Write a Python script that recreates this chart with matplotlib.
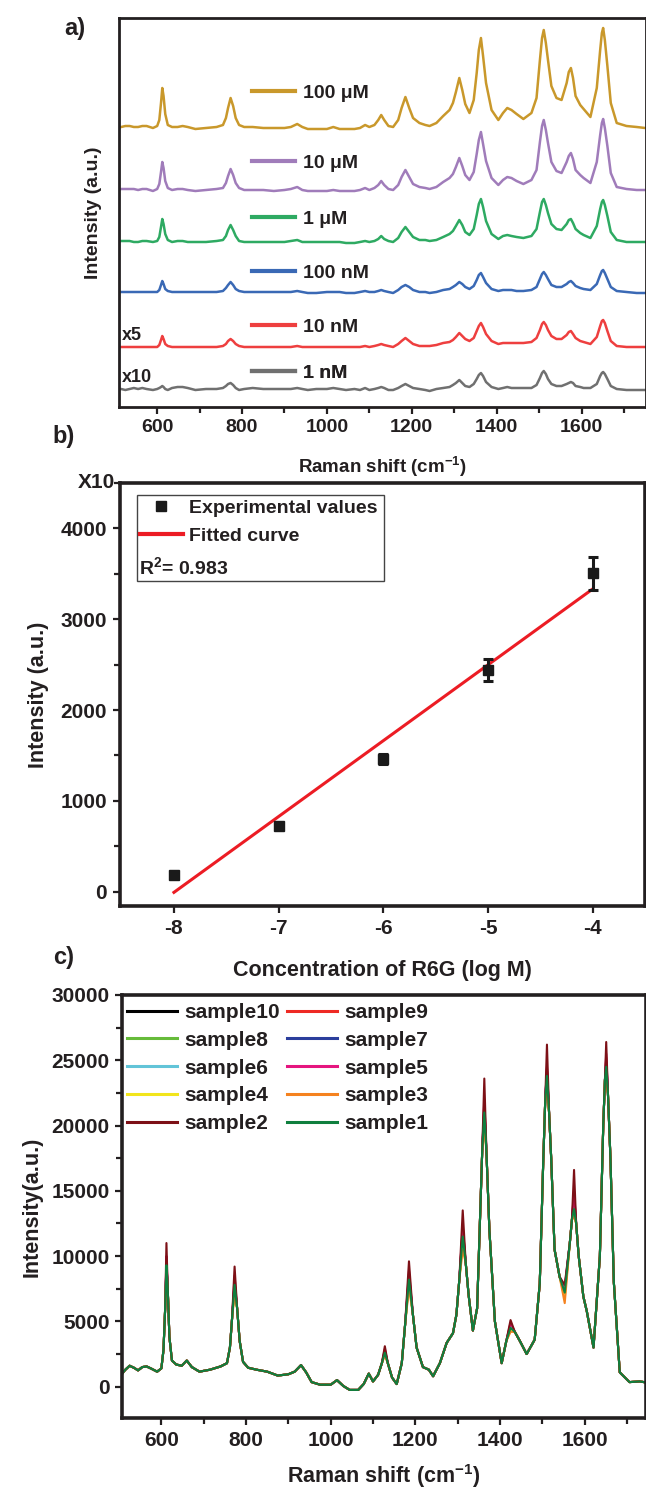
import numpy as np
import matplotlib
matplotlib.use('Agg')
import matplotlib.pyplot as plt
from matplotlib.lines import Line2D
from matplotlib.patches import Rectangle
from matplotlib.ticker import MultipleLocator

plt.rcParams['font.family'] = ['Liberation Sans', 'DejaVu Sans']
plt.rcParams['font.weight'] = 'bold'
plt.rcParams['axes.labelweight'] = 'bold'
plt.rcParams['axes.unicode_minus'] = False
plt.rcParams['mathtext.fontset'] = 'custom'
plt.rcParams['mathtext.rm'] = 'Liberation Sans:bold'
plt.rcParams['mathtext.bf'] = 'Liberation Sans:bold'
plt.rcParams['mathtext.it'] = 'Liberation Sans:bold'
plt.rcParams['mathtext.default'] = 'bf'

TXT = '#231f20'

# ---------------- data ----------------
# Raman-shift grid (cm-1) shared by all spectra
shift = [505, 515, 525, 535, 545, 555, 565, 575, 590, 600,
         605, 609, 612, 615, 619, 625, 635, 648, 660, 672,
         690, 715, 740, 755, 762, 767, 773, 779, 785, 793,
         805, 825, 850, 875, 900, 915, 930, 942, 955, 975,
         1000, 1015, 1030, 1045, 1065, 1078, 1090, 1100, 1112, 1121,
         1128, 1135, 1145, 1156, 1168, 1176, 1185, 1194, 1203, 1218,
         1232, 1242, 1258, 1274, 1289, 1297, 1304, 1312, 1319, 1326,
         1336, 1346, 1353, 1358, 1363, 1368, 1375, 1388, 1404, 1415,
         1425, 1435, 1447, 1463, 1482, 1494, 1502, 1507, 1511, 1516,
         1521, 1529, 1541, 1553, 1565, 1570, 1575, 1580, 1586, 1597,
         1605, 1621, 1636, 1644, 1648, 1651, 1655, 1661, 1669, 1683,
         1706, 1730, 1750]

# panel a: stacked spectra (a.u., height above each trace's own baseline)
a_labels = ['100 \u03bcM', '10 \u03bcM', '1 \u03bcM', '100 nM', '10 nM', '1 nM']
a_100uM = [0, 1, 2, 2, 1, 1, 2, 2, 0, 2,
           8, 25, 40, 32, 14, 3, 1, 1, 2, 1,
           -1, 0, 1, 3, 10, 20, 30, 22, 10, 3,
           1, 1, 0, 0, 0, 1, 4, 1, -1, -1,
           -1, 1, -1, -1, -1, 0, 3, 1, 3, 8,
           13, 8, 2, 1, 8, 20, 31, 20, 10, 5,
           3, 2, 5, 12, 18, 25, 36, 50, 38, 24,
           15, 28, 55, 78, 90, 72, 45, 18, 8, 15,
           20, 18, 14, 9, 15, 30, 68, 90, 98, 85,
           68, 42, 30, 28, 45, 56, 60, 50, 32, 23,
           19, 11, 40, 78, 95, 100, 88, 62, 25, 5,
           2, 1, 0]
a_10uM = [0, 1, 1, 1, 1, 0, 1, 1, -1, 1,
          6, 18, 28, 22, 9, 2, 0, 1, 1, 0,
          -1, 0, 1, 2, 7, 14, 21, 15, 7, 2,
          0, 0, 0, -1, 0, 1, 3, 0, -1, -1,
          -1, 0, -1, -1, -1, 0, 2, 0, 2, 5,
          9, 5, 1, 0, 5, 13, 20, 13, 6, 3,
          2, 1, 3, 8, 12, 16, 23, 32, 24, 15,
          10, 18, 36, 50, 58, 46, 29, 12, 5, 10,
          13, 12, 9, 6, 10, 20, 48, 64, 70, 60,
          47, 28, 19, 17, 28, 34, 37, 31, 20, 15,
          12, 7, 28, 55, 67, 71, 62, 44, 17, 3,
          1, 0, 0]
a_1uM = [0, 1, 1, 1, 0, 0, 1, 1, 0, 1,
         5, 15, 23, 18, 8, 2, 0, 1, 1, 0,
         0, 0, 1, 2, 6, 12, 17, 12, 6, 1,
         0, 0, 0, 0, 0, 1, 2, 0, 0, 0,
         0, 0, 0, -1, -1, 0, 1, 0, 1, 3,
         6, 3, 1, 0, 4, 10, 15, 10, 5, 2,
         2, 1, 2, 5, 8, 11, 16, 22, 17, 10,
         7, 13, 27, 38, 43, 35, 21, 8, 3, 6,
         7, 6, 5, 4, 6, 13, 30, 40, 43, 37,
         29, 18, 13, 12, 18, 22, 23, 19, 13, 9,
         7, 4, 16, 33, 40, 42, 37, 26, 10, 2,
         0, 0, 0]
a_100nM = [0, 0, 0, 0, 0, 0, 0, 0, 0, 0,
           2, 7, 11, 8, 3, 1, 0, 0, 0, 0,
           0, 0, 0, 1, 4, 7, 10, 7, 3, 1,
           0, 0, 0, 0, 0, 0, 1, 0, -1, -1,
           0, 0, 0, -1, -1, 0, 1, 0, 0, 1,
           2, 1, 0, -1, 2, 5, 7, 5, 2, 0,
           0, -1, 0, 2, 3, 5, 7, 10, 8, 5,
           3, 6, 12, 17, 19, 15, 9, 3, 1, 2,
           2, 2, 1, 1, 2, 5, 13, 18, 20, 17,
           13, 7, 5, 5, 8, 10, 11, 9, 6, 4,
           3, 2, 8, 17, 21, 22, 19, 13, 5, 1,
           0, -1, -1]
a_10nM = [0, 0, 0, 0, 0, 0, 0, 0, 0, 0,
          2, 7, 11, 8, 3, 1, 0, 0, 0, 0,
          0, 0, 0, 1, 3, 6, 8, 6, 3, 1,
          0, 0, 0, 0, 0, 0, 1, 0, 0, 0,
          0, 0, 0, 0, 0, 0, 1, 0, 1, 2,
          3, 2, 1, 0, 3, 6, 9, 6, 3, 1,
          1, 1, 2, 4, 5, 7, 10, 14, 11, 8,
          6, 9, 16, 21, 24, 20, 13, 6, 3, 4,
          4, 4, 4, 4, 5, 9, 17, 23, 25, 22,
          17, 11, 8, 8, 12, 15, 16, 13, 9, 6,
          5, 3, 10, 21, 26, 27, 24, 16, 6, 1,
          0, 0, 0]
a_1nM = [0, 1, 0, 1, 2, 1, 2, 1, 0, 1,
         2, 3, 4, 3, 1, 0, 2, 3, 3, 2,
         0, 1, 1, 2, 4, 6, 7, 5, 2, 0,
         1, 2, 1, 1, 1, 1, 2, 1, 0, 1,
         1, 2, 1, 0, 1, 0, 2, 0, 1, 2,
         3, 2, 0, 0, 2, 4, 6, 4, 2, 1,
         0, -1, 1, 2, 3, 5, 7, 10, 7, 4,
         3, 6, 11, 15, 17, 14, 8, 3, 1, 2,
         3, 2, 2, 2, 2, 5, 12, 17, 19, 16,
         11, 6, 4, 4, 6, 7, 8, 7, 4, 3,
         2, 2, 6, 14, 17, 18, 16, 11, 4, 1,
         0, 0, 0]
a_series = [a_100uM, a_10uM, a_1uM, a_100nM, a_10nM, a_1nM]
a_colors = ['#c9982b', '#a07cba', '#2eaa62', '#3a69b5', '#ee3f3f', '#707070']
a_offsets = [279, 217, 165, 115, 60, 17]

# panel b: calibration
log_conc = [-8, -7, -6, -5, -4]
intensity_b = [184, 727, 1461, 2441, 3506]
intensity_err = [20, 30, 60, 125, 180]
fit_x = [-8, -4]
fit_y = [-7, 3333]

# panel c: profile of sample1 + peak maxima read for every sample
c_profile = [900, 1300, 1600, 1450, 1250, 1500, 1550, 1400, 1150, 1400,
             2800, 6000, 9200, 7500, 3800, 2000, 1700, 1600, 2000, 1500,
             1150, 1300, 1550, 1800, 3000, 5200, 7800, 6000, 3500, 1900,
             1450, 1300, 1150, 850, 950, 1150, 1650, 1100, 350, 150,
             150, 500, 50, -250, -250, 200, 1000, 400, 900, 1800,
             2600, 1800, 700, 200, 1800, 4800, 8200, 5600, 3000, 1500,
             1300, 800, 1800, 3350, 4100, 5500, 8200, 11500, 9500, 7000,
             4300, 6000, 13000, 18000, 21000, 18000, 12000, 5000, 1800, 3500,
             4600, 4200, 3500, 2500, 3600, 7900, 17000, 22000, 23800, 21000,
             17500, 10500, 8400, 7200, 11000, 12800, 13700, 12500, 10000, 6900,
             5800, 3000, 10000, 20000, 23500, 24600, 22500, 17500, 8000, 1100,
             350, 400, 300]
c_peak_shift = [612, 773, 1128, 1185, 1312, 1363, 1425, 1511, 1553, 1575, 1651]
c_labels = ['sample10', 'sample9', 'sample8', 'sample7', 'sample6',
            'sample5', 'sample4', 'sample3', 'sample2', 'sample1']
c_peaks = [
    [9400, 7900, 2700, 8400, 11800, 21300, 4600, 24100, 7300, 14300, 24700],
    [9600, 8100, 2800, 8600, 12200, 21800, 4800, 24400, 7400, 14800, 25200],
    [9100, 7600, 2600, 8000, 11300, 20800, 4500, 23500, 7100, 13800, 24200],
    [9500, 8000, 2700, 8500, 12000, 21500, 4700, 24300, 7500, 14500, 25000],
    [9200, 7800, 2600, 8300, 11800, 21200, 4600, 24000, 7000, 14200, 24800],
    [10000, 8500, 2900, 8900, 12300, 22000, 4900, 24500, 7600, 15000, 25500],
    [8900, 7400, 2500, 7900, 11000, 20500, 4300, 23000, 6800, 13200, 23500],
    [8700, 7200, 2400, 7600, 10500, 20000, 4200, 22500, 6400, 13000, 23000],
    [11000, 9200, 3100, 9600, 13500, 23600, 5100, 26200, 7800, 16600, 26400],
    [9300, 7800, 2600, 8200, 11500, 21000, 4500, 23800, 7200, 13600, 24500],
]
c_colors = ['#000000', '#ee2a24', '#66bb3a', '#2b3e9c', '#62c4d8',
            '#e5157f', '#f2e51c', '#f5821f', '#7d1016', '#0f7f3e']

# ---------------- figure ----------------
W, H = 646, 1487
fig = plt.figure(figsize=(W / 100, H / 100), dpi=100)


def px_axes(left, top, right, bottom):
    return fig.add_axes([left / W, 1 - bottom / H, (right - left) / W, (bottom - top) / H])


def style_axes(ax, lw):
    for s in ax.spines.values():
        s.set_linewidth(lw)
        s.set_color(TXT)
    ax.tick_params(which='both', direction='out', color=TXT, width=1.6,
                   labelsize=14, labelcolor=TXT, top=False, right=False)
    ax.tick_params(which='major', length=5, pad=4)
    ax.tick_params(which='minor', length=4)


xs = np.array(shift)

# ---- panel a ----
ax_a = px_axes(119, 18, 646, 407)
for vals, col, off in zip(a_series, a_colors, a_offsets):
    ax_a.plot(xs, np.array(vals) + off, color=col, lw=1.8, solid_joinstyle='round')
ax_a.set_xlim(510, 1752)
ax_a.set_ylim(0, 389)
ax_a.set_yticks([])
ax_a.xaxis.set_major_locator(MultipleLocator(200))
ax_a.xaxis.set_minor_locator(MultipleLocator(100))
style_axes(ax_a, 2.0)
ax_a.set_xlabel('Raman shift (cm$^{-1}$)', fontsize=13.5, labelpad=13, color=TXT)
ax_a.set_ylabel('Intensity (a.u.)', fontsize=14, labelpad=12, color=TXT)

leg_y = [93, 163, 219, 273, 327, 373]
for lab, col, yy in zip(a_labels, a_colors, leg_y):
    lg = ax_a.legend([Line2D([], [], color=col, lw=3)], [lab], loc='center left',
                     bbox_to_anchor=((252 - 119) / 527, (407 - yy) / 389),
                     frameon=False, fontsize=14, handlelength=2.2, handletextpad=0.4,
                     borderpad=0, borderaxespad=0)
    for t in lg.get_texts():
        t.set_color(TXT)
    ax_a.add_artist(lg)
ax_a.text(0.006, (407 - 335) / 389, 'x5', transform=ax_a.transAxes, fontsize=13,
          va='center', ha='left', color=TXT)
ax_a.text(0.006, (407 - 377) / 389, 'x10', transform=ax_a.transAxes, fontsize=13,
          va='center', ha='left', color=TXT)

# ---- panel b ----
ax_b = px_axes(119.5, 483, 645, 906)
ax_b.errorbar(log_conc, intensity_b, yerr=intensity_err, fmt='s', color='#1a1a1a',
              ms=7.5, capsize=3.5, elinewidth=2.2, capthick=2.2, zorder=3)
ax_b.plot(fit_x, fit_y, color='#ec1c24', lw=2.2, zorder=2)
ax_b.set_xlim(-8.52, -3.5)
ax_b.set_ylim(-157, 4500)
ax_b.xaxis.set_major_locator(MultipleLocator(1))
ax_b.yaxis.set_major_locator(MultipleLocator(1000))
ax_b.yaxis.set_minor_locator(MultipleLocator(500))
style_axes(ax_b, 2.6)
ax_b.tick_params(labelsize=15)
ax_b.set_xlabel('Concentration of R6G (log M)', fontsize=15.5, labelpad=16, color=TXT)
ax_b.set_ylabel('Intensity (a.u.)', fontsize=15.5, labelpad=8, color=TXT)

handles_b = [Line2D([], [], marker='s', color='#1a1a1a', ls='none', ms=7),
             Line2D([], [], color='#ec1c24', lw=3)]
lg_b = ax_b.legend(handles_b, ['Experimental values', 'Fitted curve'], loc='upper left',
                   bbox_to_anchor=((140 - 119.5) / 525.5, (906 - 499) / 423), frameon=False,
                   fontsize=14, handlelength=2.2, handletextpad=0.3, labelspacing=0.55,
                   borderpad=0, borderaxespad=0)
for t in lg_b.get_texts():
    t.set_color(TXT)
ax_b.text((139 - 119.5) / 525.5, (906 - 567) / 423, 'R$^{2}$= 0.983', transform=ax_b.transAxes,
          fontsize=14, va='center', ha='left', color=TXT)
ax_b.add_patch(Rectangle(((137 - 119.5) / 525.5, (906 - 581) / 423), 247 / 525.5, 86 / 423,
                         transform=ax_b.transAxes, fill=False, lw=1.0, ec='#444444', zorder=4))

# ---- panel c ----
ax_c = px_axes(122, 995, 646, 1418)
peak_idx = [shift.index(p) for p in c_peak_shift]
handles_c = []
for lab, col, pk in zip(c_labels, c_colors, c_peaks):
    yv = np.array(c_profile, dtype=float)
    yv[peak_idx] = pk
    ln, = ax_c.plot(xs, yv, color=col, lw=1.5, label=lab, solid_joinstyle='round')
    handles_c.append(ln)
ax_c.set_xlim(507, 1745)
ax_c.set_ylim(-2400, 30000)
ax_c.xaxis.set_major_locator(MultipleLocator(200))
ax_c.xaxis.set_minor_locator(MultipleLocator(100))
ax_c.yaxis.set_major_locator(MultipleLocator(5000))
ax_c.yaxis.set_minor_locator(MultipleLocator(2500))
style_axes(ax_c, 2.6)
ax_c.tick_params(labelsize=15)
ax_c.set_xlabel('Raman shift (cm$^{-1}$)', fontsize=15.5, labelpad=9, color=TXT)
ax_c.set_ylabel('Intensity(a.u.)', fontsize=15.5, labelpad=6, color=TXT)

# column-wise fill: first column 10,8,6,4,2 ; second 9,7,5,3,1
order = [0, 2, 4, 6, 8, 1, 3, 5, 7, 9]
lg_c = ax_c.legend([handles_c[i] for i in order], [c_labels[i] for i in order],
                   ncol=2, loc='upper left', bbox_to_anchor=((127 - 122) / 524, (1418 - 1003) / 423),
                   frameon=False, fontsize=15, handlelength=2.4, handletextpad=0.35,
                   labelspacing=0.42, columnspacing=0.35, borderpad=0, borderaxespad=0)
for t in lg_c.get_texts():
    t.set_color(TXT)
for h in lg_c.legend_handles:
    h.set_linewidth(2.2)

# panel letters and axis multiplier
fig.text(75 / W, 1 - 28 / H, 'a)', fontsize=17, ha='center', va='center', color=TXT)
fig.text(64 / W, 1 - 437 / H, 'b)', fontsize=17, ha='center', va='center', color=TXT)
fig.text(64 / W, 1 - 957 / H, 'c)', fontsize=17, ha='center', va='center', color=TXT)
fig.text(96 / W, 1 - 482 / H, 'X10', fontsize=15, ha='center', va='center', color=TXT)

fig.savefig('out.png', dpi=100, facecolor='white')
